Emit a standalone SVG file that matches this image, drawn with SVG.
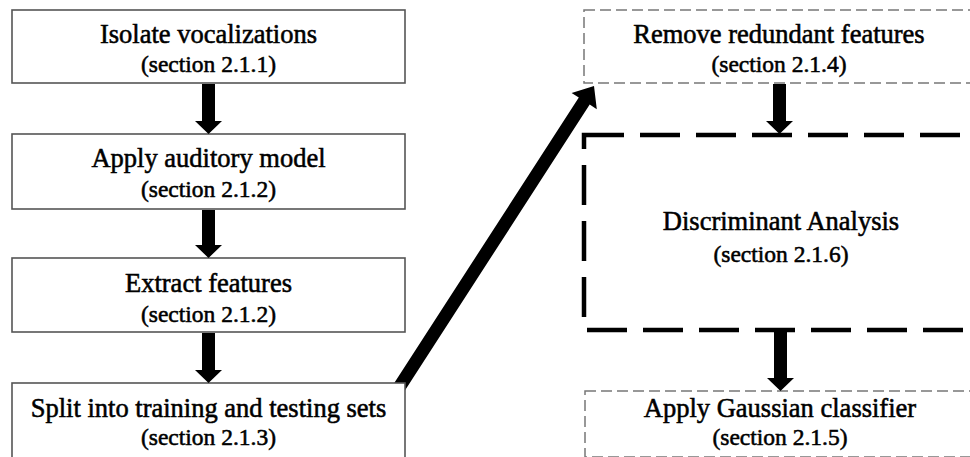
<svg xmlns="http://www.w3.org/2000/svg" width="970" height="457" viewBox="0 0 970 457">
  <style>
    .solid { fill: #fff; stroke: #555; stroke-width: 1.6; }
    .thin { fill: #fff; stroke: #777; stroke-width: 1.5; stroke-dasharray: 11 5; }
    .thick { fill: #fff; stroke: #000; stroke-width: 4.5; stroke-dasharray: 40 16; }
    .arrow { fill: #000; }
    .title { font-family: "Liberation Serif", "Times New Roman", serif; font-size: 26.5px; fill: #000; text-anchor: middle; stroke: #000; stroke-width: 0.55; }
    .sec { font-family: "Liberation Serif", "Times New Roman", serif; font-size: 23.5px; fill: #000; text-anchor: middle; stroke: #000; stroke-width: 0.55; }
  </style>
  <rect width="970" height="457" fill="#fff"/>

  <!-- long diagonal connector, drawn first so the box below hides its tail -->
  <g id="connectors">
    <polygon class="arrow" points="390.2,389.2 578.8,97.6 571.6,93.0 594,86 596.8,109.3 589.7,104.6 401.2,396.2"/>
  </g>

  <g id="n1">
    <rect class="solid" x="12" y="10" width="393" height="73"/>
    <text class="title" x="208.5" y="43">Isolate vocalizations</text>
    <text class="sec" x="208.5" y="72">(section 2.1.1)</text>
  </g>
  <g id="n2">
    <rect class="solid" x="12" y="134" width="393" height="75"/>
    <text class="title" x="208.5" y="167">Apply auditory model</text>
    <text class="sec" x="208.5" y="197">(section 2.1.2)</text>
  </g>
  <g id="n3">
    <rect class="solid" x="12" y="258" width="393" height="74"/>
    <text class="title" x="208.5" y="292">Extract features</text>
    <text class="sec" x="208.5" y="322">(section 2.1.2)</text>
  </g>
  <g id="n4">
    <rect class="solid" x="12" y="383" width="393" height="80"/>
    <text class="title" x="208.5" y="417">Split into training and testing sets</text>
    <text class="sec" x="208.5" y="445">(section 2.1.3)</text>
  </g>

  <g id="n5">
    <rect class="thin" x="584" y="10" width="400" height="73"/>
    <text class="title" x="779" y="43">Remove redundant features</text>
    <text class="sec" x="779" y="72">(section 2.1.4)</text>
  </g>
  <g id="n6">
    <rect class="thick" x="584" y="135" width="400" height="195"/>
    <text class="title" x="781" y="230">Discriminant Analysis</text>
    <text class="sec" x="781" y="262">(section 2.1.6)</text>
  </g>
  <g id="n7">
    <rect class="thin" x="585" y="391" width="400" height="66"/>
    <text class="title" x="780" y="417">Apply Gaussian classifier</text>
    <text class="sec" x="780" y="445">(section 2.1.5)</text>
  </g>

  <!-- vertical flow arrows -->
  <g id="connectors-vertical">
    <polygon class="arrow" points="202,84 215,84 215,121 222,121 208.5,134 195,121 202,121"/>
    <polygon class="arrow" points="202,210 215,210 215,245 222,245 208.5,258 195,245 202,245"/>
    <polygon class="arrow" points="202,333 215,333 215,370 222,370 208.5,383 195,370 202,370"/>
    <polygon class="arrow" points="773,84 786,84 786,121 793,121 779.5,134 766,121 773,121"/>
    <polygon class="arrow" points="774,331 787,331 787,378 794,378 780.5,391 767,378 774,378"/>
  </g>
</svg>
